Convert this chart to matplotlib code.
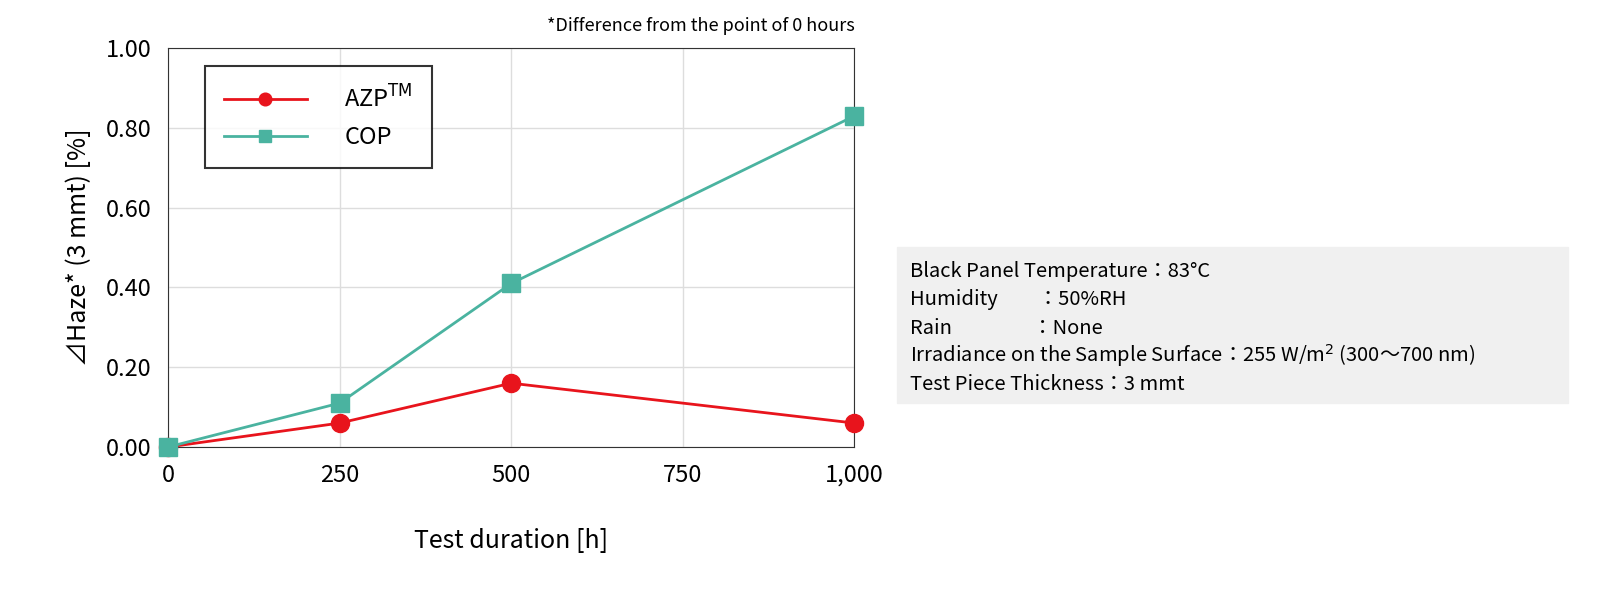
import matplotlib
matplotlib.use('Agg')
import matplotlib.pyplot as plt
import matplotlib.patches as mpatches

plt.rcParams['font.family'] = 'Noto Sans CJK JP'

hours = [0, 250, 500, 1000]
azp_haze = [0.00, 0.06, 0.16, 0.06]
cop_haze = [0.00, 0.11, 0.41, 0.83]
x_ticks = [0, 250, 500, 750, 1000]
x_labels = ['0', '250', '500', '750', '1,000']
y_ticks = [0.0, 0.2, 0.4, 0.6, 0.8, 1.0]
conditions = [
    'Black Panel Temperature：83°C',
    'Humidity　　：50%RH',
    'Rain　　　　：None',
    'Irradiance on the Sample Surface：255 W/m$^2$ (300～700 nm)',
    'Test Piece Thickness：3 mmt',
]

fig = plt.figure(figsize=(16, 5.98), dpi=100)
ax = fig.add_axes([0.105, 0.2525, 0.429, 0.667])

ax.plot(hours, azp_haze, color='#e8141c', marker='o', markersize=13, lw=2,
        label='AZP$^{\\mathrm{TM}}$', clip_on=False, zorder=3)
ax.plot(hours, cop_haze, color='#4ab3a0', marker='s', markersize=13, lw=2,
        label='COP', clip_on=False, zorder=4)

ax.set_xlim(0, 1000)
ax.set_ylim(0, 1.0)
ax.set_xticks(x_ticks)
ax.set_xticklabels(x_labels)
ax.set_yticks(y_ticks)
ax.set_yticklabels([f'{v:.2f}' for v in y_ticks])
ax.tick_params(labelsize=17, length=0, pad=12)
ax.grid(color='#dddddd', lw=1)
ax.set_axisbelow(True)
for s in ax.spines.values():
    s.set_color('#333333')
ax.set_xlabel('Test duration [h]', fontsize=18, labelpad=30)
ax.set_ylabel('⊿Haze* (3 mmt) [%]', fontsize=18, labelpad=10)
ax.set_title('*Difference from the point of 0 hours', fontsize=13, loc='right', pad=12)

leg = ax.legend(loc='upper left', bbox_to_anchor=(0.054, 0.955),
                fontsize=17, frameon=True, fancybox=False, edgecolor='black',
                handlelength=3.5, borderpad=0.8, labelspacing=0.6, handletextpad=1.6,
                markerscale=0.7, borderaxespad=0)
leg.get_frame().set_linewidth(1.5)

fig.patches.append(mpatches.Rectangle((897 / 1600, 1 - 403 / 598), 671 / 1600, 156 / 598,
                                      transform=fig.transFigure, color='#f0f0f0', zorder=0))
for i, line in enumerate(conditions):
    fig.text(910 / 1600, 1 - (272 + i * 28) / 598, line, fontsize=14.5, va='center')

fig.savefig('out.png', dpi=100)
